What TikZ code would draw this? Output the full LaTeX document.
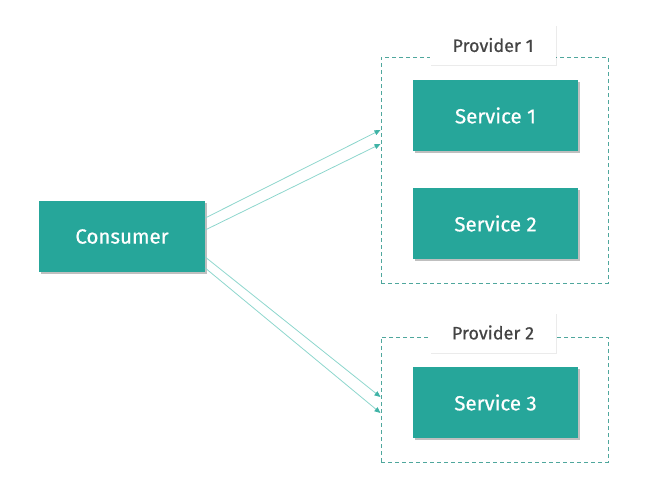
\documentclass[tikz,border=0pt]{standalone}
\usepackage{fontspec}
\setmainfont{Fira Sans}
\newfontfamily\semifont[FakeBold=0.6]{Fira Sans}
\usetikzlibrary{arrows.meta,shadows,calc}
\definecolor{teal1}{HTML}{26A69A}
\definecolor{arrc}{HTML}{8DD6CD}
\definecolor{tipc}{HTML}{3FB3A6}
\definecolor{dashc}{HTML}{4FA79D}
\definecolor{lblc}{HTML}{444444}
\tikzset{
  svc/.style={fill=teal1, draw=none, text=white, minimum width=165pt, minimum height=71pt,
    font=\semifont\fontsize{20.5}{24}\selectfont, inner sep=0pt,
    drop shadow={shadow xshift=1.5pt, shadow yshift=-1.5pt, fill=black, opacity=0.25}},
  prov/.style={draw=dashc, dash pattern=on 4pt off 3pt, line width=1pt, inner sep=0pt},
  lbl/.style={fill=white, text=lblc, minimum width=126pt, minimum height=40pt, inner sep=0pt,
    font=\semifont\fontsize{18}{21}\selectfont,
    drop shadow={shadow xshift=1pt, shadow yshift=-1pt, fill=black, opacity=0.08}},
  arr/.style={draw=arrc, line width=0.8pt, -{Triangle[length=6pt,width=5pt,fill=tipc,color=tipc]}},
}
\begin{document}
\begin{tikzpicture}[x=1pt,y=-1pt]
\useasboundingbox (0,0) rectangle (656,477);
\node[prov, minimum width=227pt, minimum height=226pt] (p1) at (494.5,170) {};
\node[prov, minimum width=227pt, minimum height=125pt] (p2) at (494.5,399.5) {};
\node[lbl] (l1) at (493,45) {Provider 1};
\node[lbl] (l2) at (493,332.5) {Provider 2};
\node[svc] (s1) at (495.5,115.5) {Service 1};
\node[svc] (s2) at (495.5,223.5) {Service 2};
\node[svc] (s3) at (495.5,402.5) {Service 3};
\node[svc, minimum width=166pt, minimum height=71pt] (cons) at (122,236.5) {Consumer};
\draw[arr] ([yshift=18.5pt]cons.east) -- ([yshift=40pt]p1.west);
\draw[arr] ([yshift=6.5pt]cons.east) -- ([yshift=26pt]p1.west);
\draw[arr] ([yshift=-20.5pt]cons.east) -- ([yshift=2.5pt]p2.west);
\draw[arr] ([yshift=-31.5pt]cons.east) -- ([yshift=-13.5pt]p2.west);
\end{tikzpicture}
\end{document}
